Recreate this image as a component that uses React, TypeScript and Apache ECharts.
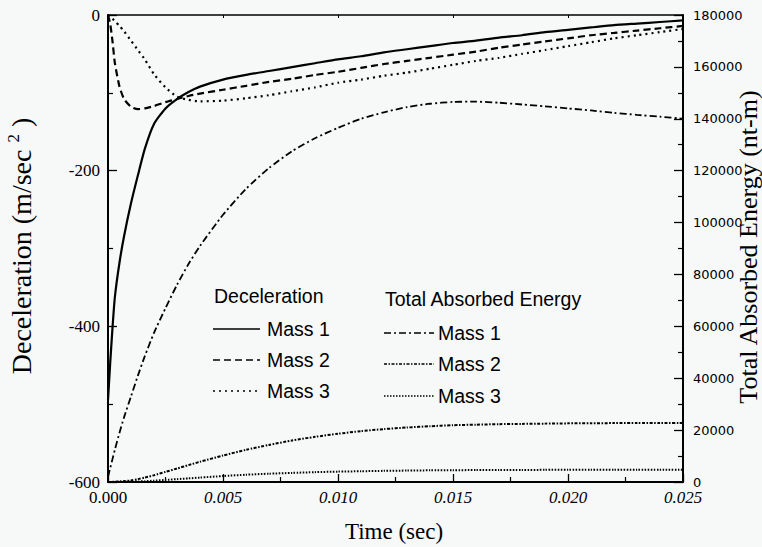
import React, { useEffect, useRef } from "react";
import * as echarts from "echarts";

const time = [0, 0.0001, 0.0002, 0.0003, 0.0005, 0.0007, 0.001, 0.0013, 0.0016, 0.002, 0.0025, 0.003, 0.0035, 0.004, 0.005, 0.006, 0.007, 0.008, 0.009, 0.010, 0.011, 0.012, 0.013, 0.014, 0.015, 0.016, 0.017, 0.018, 0.019, 0.020, 0.021, 0.022, 0.023, 0.024, 0.025];

const decelMass1 = [-495, -445, -400, -362, -318, -284, -242, -206, -172, -140, -120, -108, -99, -92, -83, -77, -72, -67, -62, -57, -53, -48, -44, -40, -36, -33, -29, -26, -22, -19, -16, -13, -11, -9, -7];
const decelMass2 = [0, -12, -35, -62, -92, -108, -118, -121, -120, -117, -112, -108, -104, -101, -96, -91, -86, -82, -77, -73, -68, -63, -59, -55, -51, -47, -42, -38, -34, -30, -26, -23, -20, -17, -14];
const decelMass3 = [0, -2, -5, -8, -14, -21, -33, -45, -57, -76, -93, -105, -109, -111, -110, -107, -103, -98, -93, -87, -83, -78, -74, -69, -64, -59, -55, -50, -45, -40, -35, -30, -26, -22, -18];

const energyMass1 = [2000, 5500, 9000, 12500, 19000, 25000, 33000, 41000, 48500, 57500, 67000, 76000, 84000, 91000, 103000, 113000, 121000, 127500, 132500, 136500, 140000, 142500, 144500, 145800, 146500, 146600, 146200, 145500, 144800, 144000, 143200, 142300, 141500, 140800, 140000];
const energyMass2 = [0, 20, 50, 100, 200, 350, 600, 1100, 1700, 2600, 3900, 5200, 6500, 7800, 10200, 12400, 14300, 16000, 17400, 18600, 19600, 20400, 21000, 21500, 21900, 22100, 22300, 22400, 22500, 22600, 22650, 22700, 22700, 22700, 22700];
const energyMass3 = [0, 0, 10, 20, 40, 70, 120, 200, 300, 500, 800, 1100, 1400, 1700, 2300, 2800, 3200, 3500, 3800, 4000, 4150, 4300, 4400, 4500, 4550, 4600, 4620, 4650, 4680, 4700, 4700, 4700, 4700, 4700, 4700];

const legendLeftTitle = "Deceleration";
const legendRightTitle = "Total Absorbed Energy";
const legendLabels = ["Mass 1", "Mass 2", "Mass 3"];

const BG = "#f7f8f8";
const INK = "#000";

const styles = {
  d1: { width: 2.2, type: "solid" as any },
  d2: { width: 2.2, type: [7, 4] as any },
  d3: { width: 2.2, type: [2, 4] as any },
  e1: { width: 1.8, type: [7, 3, 2, 3] as any },
  e2: { width: 2, type: [3, 1.5, 1.5, 1.5] as any },
  e3: { width: 2, type: [1.5, 1.5] as any },
};

function pairs(vals: number[]) {
  return time.map((t, i) => [t, vals[i]]);
}

export default function App() {
  const ref = useRef<HTMLDivElement>(null);
  useEffect(() => {
    document.body.style.margin = "0";
    const chart = echarts.init(ref.current!, null, { renderer: "svg" });
    const serif = "Liberation Serif";
    const sans = "Liberation Sans";

    const mkSeries = (name: string, vals: number[], st: any, yIdx: number) => ({
      name,
      type: "line",
      yAxisIndex: yIdx,
      xAxisIndex: 0,
      data: pairs(vals),
      showSymbol: false,
      smooth: 0.2,
      lineStyle: { color: INK, width: st.width, type: st.type },
      silent: true,
    });

    const legendRow = (x1: number, x2: number, y: number, st: any, label: string, tx: number) => [
      {
        type: "line",
        shape: { x1, y1: y, x2, y2: y },
        style: { stroke: INK, lineWidth: Math.min(st.width, 1.6), lineDash: st.type === "solid" ? null : st.type },
      },
      {
        type: "text",
        x: tx,
        y,
        style: { text: label, font: `19.5px '${sans}'`, fill: INK, align: "left", verticalAlign: "middle" },
      },
    ];

    const graphics: any[] = [
      {
        type: "text",
        x: 20,
        y: 246,
        rotation: Math.PI / 2,
        style: {
          text: "{a|Deceleration (m/sec }{s|2}{a| )}",
          align: "center",
          verticalAlign: "middle",
          fill: INK,
          rich: {
            a: { fontFamily: serif, fontSize: 28, fill: INK, lineHeight: 30, verticalAlign: "bottom" },
            s: { fontFamily: serif, fontSize: 17, fill: INK, lineHeight: 30, verticalAlign: "top" },
          },
        },
      },
      {
        type: "text",
        x: 748,
        y: 247,
        rotation: Math.PI / 2,
        style: {
          text: "Total Absorbed Energy (nt-m)",
          font: `26px '${serif}'`,
          fill: INK,
          align: "center",
          verticalAlign: "middle",
        },
      },
      {
        type: "text",
        x: 394,
        y: 531,
        style: { text: "Time (sec)", font: `23px '${serif}'`, fill: INK, align: "center", verticalAlign: "middle" },
      },
      {
        type: "text",
        x: 214,
        y: 296,
        style: { text: legendLeftTitle, font: `19.5px '${sans}'`, fill: INK, align: "left", verticalAlign: "middle" },
      },
      {
        type: "text",
        x: 385,
        y: 299,
        style: { text: legendRightTitle, font: `19.5px '${sans}'`, fill: INK, align: "left", verticalAlign: "middle" },
      },
      ...legendRow(213, 260, 329, styles.d1, legendLabels[0], 267),
      ...legendRow(213, 260, 360, styles.d2, legendLabels[1], 267),
      ...legendRow(213, 260, 391, styles.d3, legendLabels[2], 267),
      ...legendRow(384, 434, 333, styles.e1, legendLabels[0], 438),
      ...legendRow(384, 434, 364, styles.e2, legendLabels[1], 438),
      ...legendRow(384, 434, 396, styles.e3, legendLabels[2], 438),
    ];

    chart.setOption({
      animation: false,
      backgroundColor: BG,
      grid: { left: 108, right: 79, top: 15, bottom: 65 },
      xAxis: [
        {
          type: "value",
          min: 0,
          max: 0.025,
          interval: 0.005,
          position: "bottom",
          axisLine: { show: true, onZero: false, lineStyle: { color: INK, width: 2 } },
          axisTick: { show: true, inside: true, length: 8, lineStyle: { color: INK, width: 1.3 } },
          minorTick: { show: true, splitNumber: 2, length: 5, lineStyle: { color: INK, width: 1.2 } },
          splitLine: { show: false },
          minorSplitLine: { show: false },
          axisLabel: {
            margin: 7,
            formatter: (v: number) => (v === 0 ? "{u|0.000}" : "{i|" + v.toFixed(3) + "}"),
            rich: {
              u: { fontFamily: serif, fontSize: 17, color: INK },
              i: { fontFamily: serif, fontSize: 17, color: INK, fontStyle: "italic" },
            },
          },
        },
        {
          type: "value",
          min: 0,
          max: 0.025,
          interval: 0.005,
          position: "top",
          axisLine: { show: true, onZero: false, lineStyle: { color: INK, width: 1.5 } },
          axisTick: { show: true, inside: true, length: 3, lineStyle: { color: INK, width: 1 } },
          axisLabel: { show: false },
          splitLine: { show: false },
        },
      ],
      yAxis: [
        {
          type: "value",
          min: -600,
          max: 0,
          interval: 200,
          position: "left",
          axisLine: { show: true, onZero: false, lineStyle: { color: INK, width: 2 } },
          axisTick: { show: true, inside: true, length: 9, lineStyle: { color: INK, width: 1.3 } },
          minorTick: { show: true, splitNumber: 2, length: 5, lineStyle: { color: INK, width: 1.2 } },
          splitLine: { show: false },
          minorSplitLine: { show: false },
          axisLabel: { margin: 8, fontFamily: serif, fontSize: 17, color: INK },
        },
        {
          type: "value",
          min: 0,
          max: 180000,
          interval: 20000,
          position: "right",
          axisLine: { show: true, onZero: false, lineStyle: { color: INK, width: 2 } },
          axisTick: { show: true, inside: true, length: 9, lineStyle: { color: INK, width: 1.3 } },
          minorTick: { show: true, splitNumber: 2, length: 5, lineStyle: { color: INK, width: 1.2 } },
          splitLine: { show: false },
          minorSplitLine: { show: false },
          axisLabel: {
            margin: 10,
            fontFamily: "DejaVu Sans",
            fontSize: 13,
            color: INK,
            formatter: (v: number) => String(v),
          },
        },
      ],
      series: [
        mkSeries("Deceleration Mass 1", decelMass1, styles.d1, 0),
        mkSeries("Deceleration Mass 2", decelMass2, styles.d2, 0),
        mkSeries("Deceleration Mass 3", decelMass3, styles.d3, 0),
        mkSeries("Energy Mass 1", energyMass1, styles.e1, 1),
        mkSeries("Energy Mass 2", energyMass2, styles.e2, 1),
        mkSeries("Energy Mass 3", energyMass3, styles.e3, 1),
      ],
      graphic: graphics,
    });
    return () => chart.dispose();
  }, []);
  return <div ref={ref} style={{ position: "absolute", left: 0, top: 0, width: 762, height: 547 }} />;
}
